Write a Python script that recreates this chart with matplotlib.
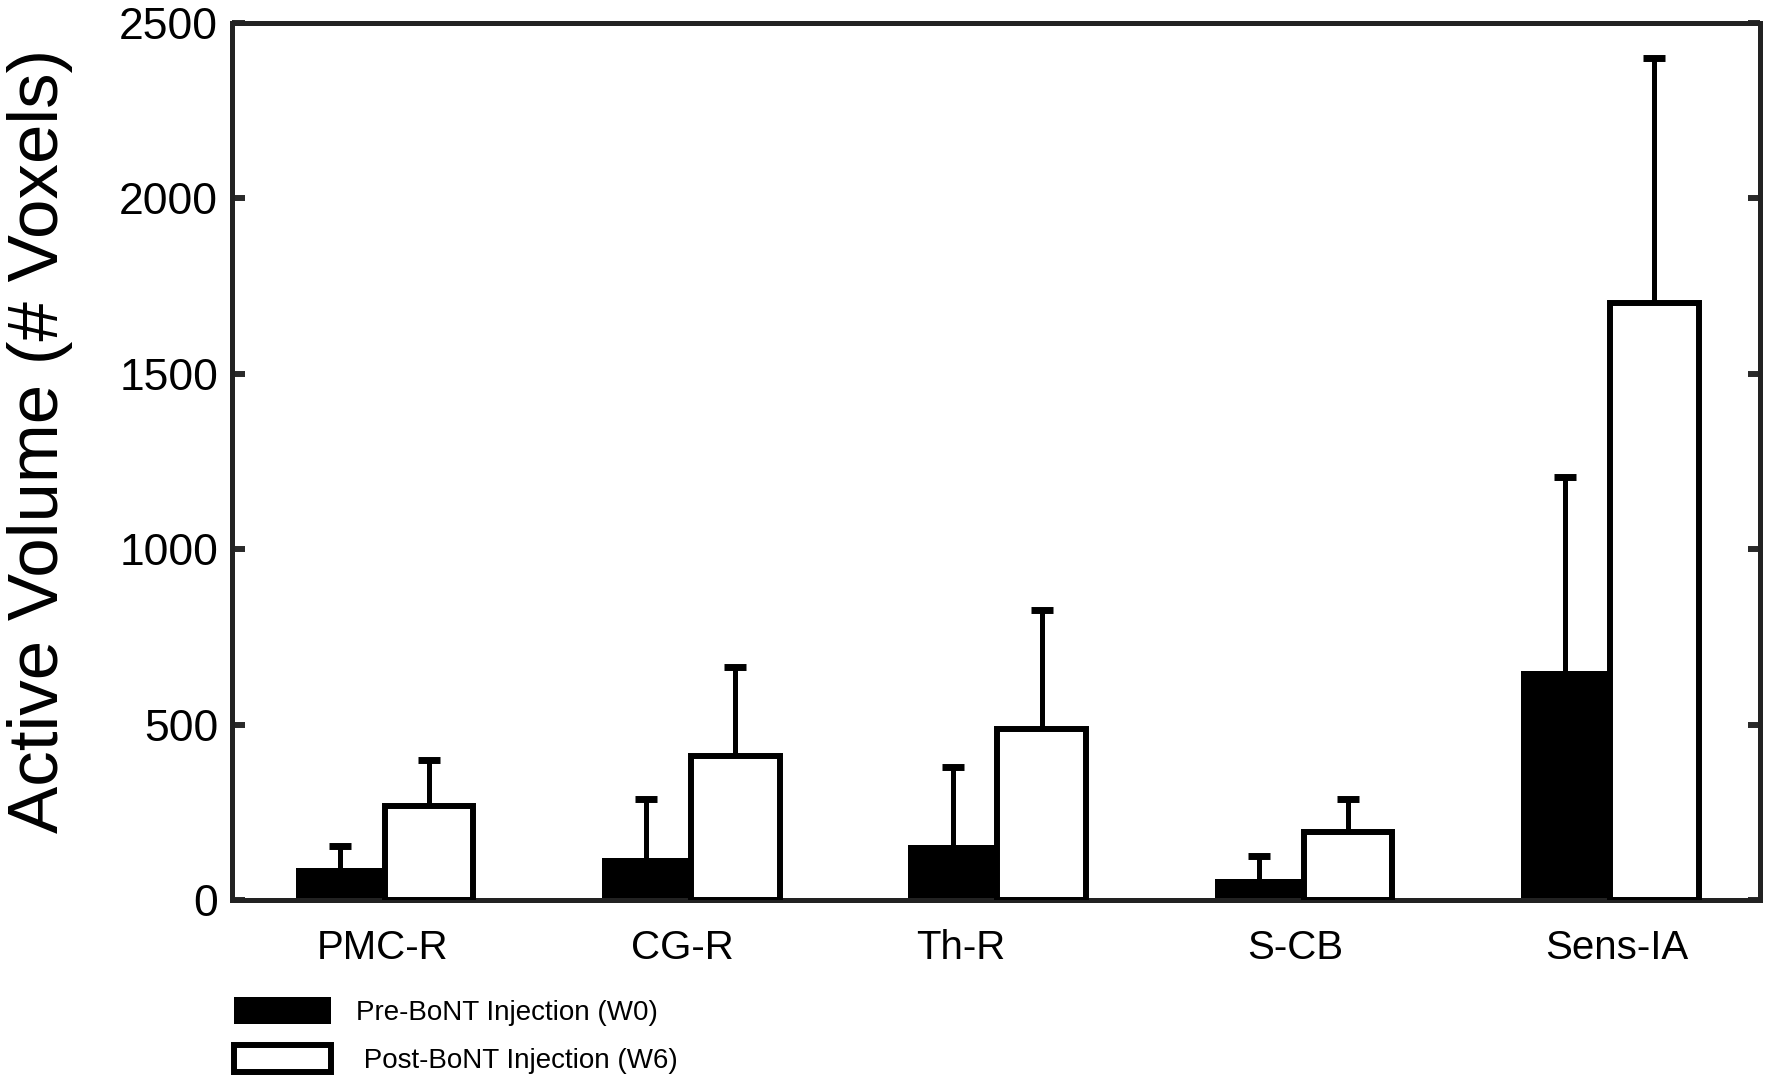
import matplotlib
matplotlib.use('Agg')
import matplotlib.pyplot as plt
import numpy as np

# ---- data ----
categories = ['PMC-R', 'CG-R', 'Th-R', 'S-CB', 'Sens-IA']
pre_mean = [90, 119, 158, 61, 652]
pre_upper = [155, 287, 380, 126, 1206]
post_mean = [268, 410, 487, 194, 1703]
post_upper = [400, 665, 826, 287, 2400]
y_ticks = [0, 500, 1000, 1500, 2000, 2500]
series_labels = ['Pre-BoNT Injection (W0)', ' Post-BoNT Injection (W6)']
y_label = 'Active Volume (# Voxels)'

plt.rcParams['font.family'] = ['Liberation Sans', 'DejaVu Sans']

W, H = 1772, 1084
fig = plt.figure(figsize=(W / 100, H / 100), dpi=100)
ax = fig.add_axes([232 / W, 1 - 900 / H, (1760 - 232) / W, (900 - 23) / H])

x = np.arange(len(categories))
bw = 0.29
pre_err = np.array(pre_upper) - np.array(pre_mean)
post_err = np.array(post_upper) - np.array(post_mean)

err_kw = dict(ecolor='black', elinewidth=3.6, capsize=8, capthick=5)
b1 = ax.bar(x - bw / 2, pre_mean, bw, color='black', edgecolor='black', linewidth=0,
            yerr=[np.zeros(len(x)), pre_err], error_kw=err_kw, label=series_labels[0], zorder=2)
b2 = ax.bar(x + bw / 2, post_mean, bw, color='white', edgecolor='black', linewidth=4.3,
            yerr=[np.zeros(len(x)), post_err], error_kw=err_kw, label=series_labels[1], zorder=3)

# only the upper caps are drawn in the reference
for b in (b1, b2):
    caplines = b.errorbar.lines[1]
    if len(caplines) >= 2:
        caplines[0].set_visible(False)

ax.set_xlim(-0.498, 4.49)
ax.set_ylim(0, 2500)
ax.set_yticks(y_ticks)
ax.set_yticklabels([str(v) for v in y_ticks], fontsize=32)
ax.set_xticks(x)
ax.set_xticklabels([])

# category labels, with the small horizontal nudges seen in the reference
label_nudge_px = [-2, -9, -36, -8, 7]
for xi, cat, dx in zip(x, categories, label_nudge_px):
    ax.annotate(cat, xy=(xi, 0), xycoords=('data', 'axes fraction'),
                xytext=(dx * 0.72, -21), textcoords='offset points',
                ha='center', va='top', fontsize=29, annotation_clip=False)

ax.tick_params(axis='y', direction='in', length=9, width=4.3, color='#2a2a2a',
               right=True, pad=10)
ax.tick_params(axis='x', length=0)

for s in ax.spines.values():
    s.set_linewidth(3.6)
    s.set_color('#222222')

fig.text(40 / W, 1 - 441 / H, y_label, rotation=90, ha='center', va='center', fontsize=51)

leg = ax.legend(handles=[b1, b2], labels=series_labels, loc='upper left',
                bbox_to_anchor=(234 / W, 1 - 997 / H), bbox_transform=fig.transFigure,
                frameon=False, fontsize=20, handlelength=3.5, handleheight=1.1,
                handletextpad=0.9, labelspacing=0.7, borderpad=0, borderaxespad=0)

fig.savefig('out.png', dpi=100)
